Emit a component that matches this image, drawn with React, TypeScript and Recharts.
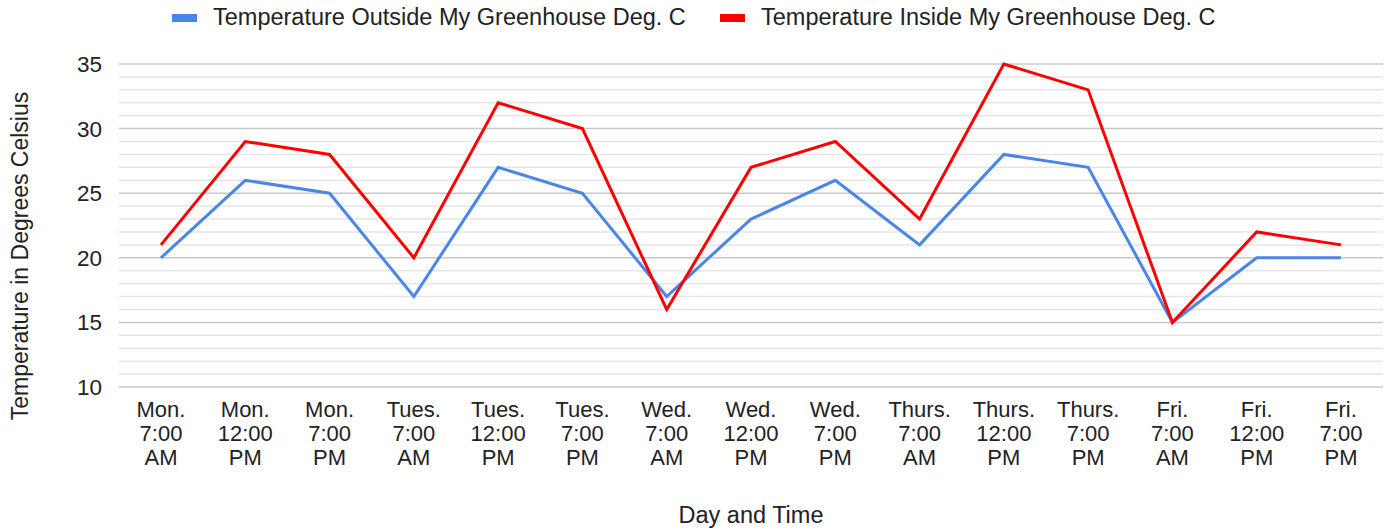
import { LineChart, Line, XAxis, YAxis, Legend, ReferenceLine } from "recharts";

const categories = [
  "Mon.\n7:00\nAM",
  "Mon.\n12:00\nPM",
  "Mon.\n7:00\nPM",
  "Tues.\n7:00\nAM",
  "Tues.\n12:00\nPM",
  "Tues.\n7:00\nPM",
  "Wed.\n7:00\nAM",
  "Wed.\n12:00\nPM",
  "Wed.\n7:00\nPM",
  "Thurs.\n7:00\nAM",
  "Thurs.\n12:00\nPM",
  "Thurs.\n7:00\nPM",
  "Fri.\n7:00\nAM",
  "Fri.\n12:00\nPM",
  "Fri.\n7:00\nPM",
];

const outside = [20, 26, 25, 17, 27, 25, 17, 23, 26, 21, 28, 27, 15, 20, 20];
const inside = [21, 29, 28, 20, 32, 30, 16, 27, 29, 23, 35, 33, 15, 22, 21];

const yTicks = [10, 11, 12, 13, 14, 15, 16, 17, 18, 19, 20, 21, 22, 23, 24, 25, 26, 27, 28, 29, 30, 31, 32, 33, 34, 35];

const OUTSIDE_NAME = "Temperature Outside My Greenhouse Deg. C";
const INSIDE_NAME = "Temperature Inside My Greenhouse Deg. C";

const BLUE = "#4a86e8";
const RED = "#ff0000";
const FONT = "'Liberation Sans', Arial, sans-serif";

const data = categories.map((c, i) => ({
  time: c,
  outside: outside[i],
  inside: inside[i],
}));

const XTick = ({ x, y, payload }: any) => {
  const lines = String(payload.value).split("\n");
  return (
    <text x={x} y={y} textAnchor="middle" fill="#222" fontSize={22} fontFamily={FONT}>
      {lines.map((l, i) => (
        <tspan key={i} x={x} dy={i === 0 ? 22 : 24}>
          {l}
        </tspan>
      ))}
    </text>
  );
};

const YTick = ({ x, y, payload }: any) => {
  if (payload.value % 5 !== 0) return null;
  return (
    <text x={x} y={y} dy={8} textAnchor="end" fill="#222" fontSize={22.5} fontFamily={FONT}>
      {payload.value}
    </text>
  );
};

const LegendContent = () => (
  <div style={{ position: "relative", height: 40, fontFamily: FONT, fontSize: 23.5, color: "#222" }}>
    {[
      { name: OUTSIDE_NAME, color: BLUE, left: 172 },
      { name: INSIDE_NAME, color: RED, left: 720 },
    ].map((item) => (
      <div
        key={item.name}
        style={{ position: "absolute", left: item.left, top: 4, display: "flex", alignItems: "center", whiteSpace: "nowrap" }}
      >
        <span style={{ width: 25, height: 8, background: item.color, display: "inline-block", marginRight: 16 }} />
        <span>{item.name}</span>
      </div>
    ))}
  </div>
);

export default function App() {
  return (
    <div style={{ position: "absolute", left: 0, top: 0, background: "#fff" }}>
      <LineChart width={1388} height={531} data={data} margin={{ top: 24, right: 5, bottom: 0, left: 0 }}>
        <Legend
          verticalAlign="top"
          height={40}
          content={<LegendContent />}
          wrapperStyle={{ top: 0, left: 0, width: 1388 }}
        />
        {yTicks.map((v) => (
          <ReferenceLine
            key={v}
            y={v}
            stroke={v % 5 === 0 ? "#c8c8c8" : "#e6e6e6"}
            strokeWidth={1.5}
            ifOverflow="extendDomain"
          />
        ))}
        <XAxis
          dataKey="time"
          interval={0}
          height={144}
          padding={{ left: 42, right: 42 }}
          axisLine={false}
          tickLine={false}
          tick={<XTick />}
          label={{
            value: "Day and Time",
            position: "insideBottom",
            offset: 8,
            fill: "#222",
            fontSize: 23.5,
            fontFamily: FONT,
          }}
        />
        <YAxis
          width={119}
          domain={[10, 35]}
          ticks={yTicks}
          interval={0}
          axisLine={false}
          tickLine={false}
          tickMargin={11}
          tick={<YTick />}
          label={() => (
            <text
              x={20}
              y={256}
              transform={`rotate(-90, 20, 256)`}
              textAnchor="middle"
              dominantBaseline="central"
              fill="#222"
              fontSize={23}
              fontFamily={FONT}
            >
              Temperature in Degrees Celsius
            </text>
          )}
        />
        <Line
          type="linear"
          dataKey="outside"
          name={OUTSIDE_NAME}
          stroke={BLUE}
          strokeWidth={3}
          dot={false}
          isAnimationActive={false}
        />
        <Line
          type="linear"
          dataKey="inside"
          name={INSIDE_NAME}
          stroke={RED}
          strokeWidth={3}
          dot={false}
          isAnimationActive={false}
        />
      </LineChart>
    </div>
  );
}
